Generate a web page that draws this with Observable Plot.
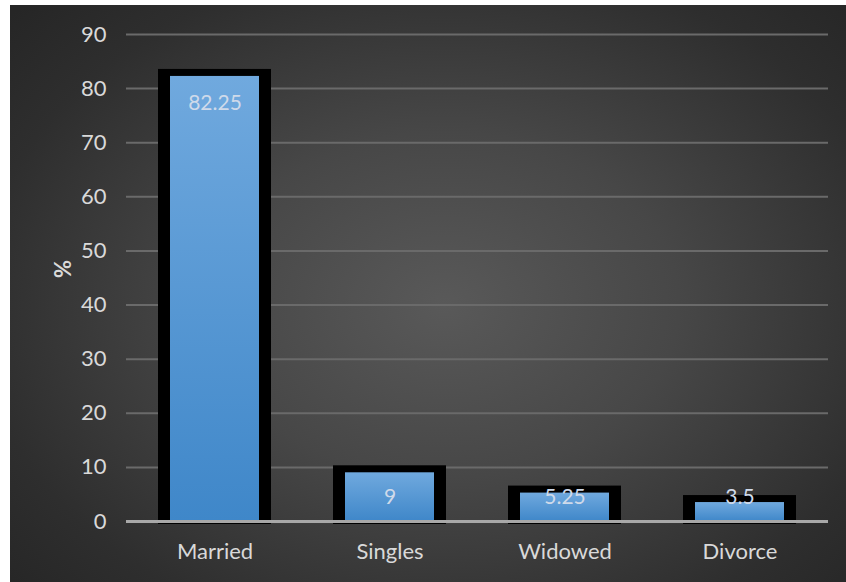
<!DOCTYPE html>
<html>
<head>
<meta charset="utf-8">
<script src="https://cdn.jsdelivr.net/npm/d3@7"></script>
<script src="https://cdn.jsdelivr.net/npm/@observablehq/plot@0.6"></script>
<style>
  html, body { margin: 0; padding: 0; background: #ffffff; }
  #frame {
    position: absolute; left: 10px; top: 5px; width: 836px; height: 577px;
    background: radial-gradient(ellipse 70% 75% at 52% 52%, #595959 0%, #474747 40%, #2e2e2e 80%, #262626 100%);
    overflow: hidden;
  }
  #frame svg { background: transparent; }
</style>
</head>
<body>
<div id="frame"></div>
<script>
const categories = ["Married", "Singles", "Widowed", "Divorce"];
const values = [82.25, 9, 5.25, 3.5];
const valueLabels = ["82.25", "9", "5.25", "3.5"];
const yTicks = [0, 10, 20, 30, 40, 50, 60, 70, 80, 90];
const yLabel = "%";

const data = categories.map((c, i) => ({category: c, value: values[i], label: valueLabels[i]}));

const font = "Lato, 'Open Sans', sans-serif";

const defs = () => {
  const d = d3.create("svg:defs");
  const g = d.append("linearGradient").attr("id", "barGrad")
    .attr("x1", 0).attr("y1", 0).attr("x2", 0).attr("y2", 1);
  g.append("stop").attr("offset", "0%").attr("stop-color", "#70a9de");
  g.append("stop").attr("offset", "100%").attr("stop-color", "#3f87c9");
  return d.node();
};

const chart = Plot.plot({
  width: 836,
  height: 577,
  marginLeft: 116,
  marginRight: 18,
  marginTop: 29,
  marginBottom: 61,
  style: {background: "transparent", color: "#d9d9d9", fontFamily: font, fontSize: "22px"},
  x: {domain: categories, paddingInner: 0.49, paddingOuter: 0.245, label: null},
  y: {domain: [0, 90], ticks: yTicks, label: null},
  marks: [
    defs,
    Plot.gridY(yTicks.filter(t => t > 0), {stroke: "#6a6a6a", strokeOpacity: 1, strokeWidth: 2}),
    Plot.axisY({ticks: yTicks, tickSize: 0, tickPadding: 20, fill: "#d9d9d9", fontSize: 22, label: null}),
    Plot.axisX({tickSize: 0, tickPadding: 22, fill: "#d9d9d9", fontSize: 22, label: null}),
    Plot.text([yLabel], {frameAnchor: "left", dx: -63, rotate: -90, fill: "#d9d9d9", fontSize: 22, fontWeight: "bold"}),
    Plot.barY(data, {x: "category", y: "value", fill: "#000000",
      insetLeft: -12, insetRight: -12, insetTop: -7, insetBottom: -3}),
    Plot.barY(data, {x: "category", y: "value", fill: "url(#barGrad)"}),
    Plot.ruleY([0], {stroke: "#a8a8a8", strokeWidth: 3}),
    Plot.text(data, {x: "category", y: d => Math.max(d.value - 4.9, 4.4), text: "label",
      fill: "#cfdaea", fontSize: 21})
  ]
});
document.getElementById("frame").appendChild(chart);
</script>
</body>
</html>
